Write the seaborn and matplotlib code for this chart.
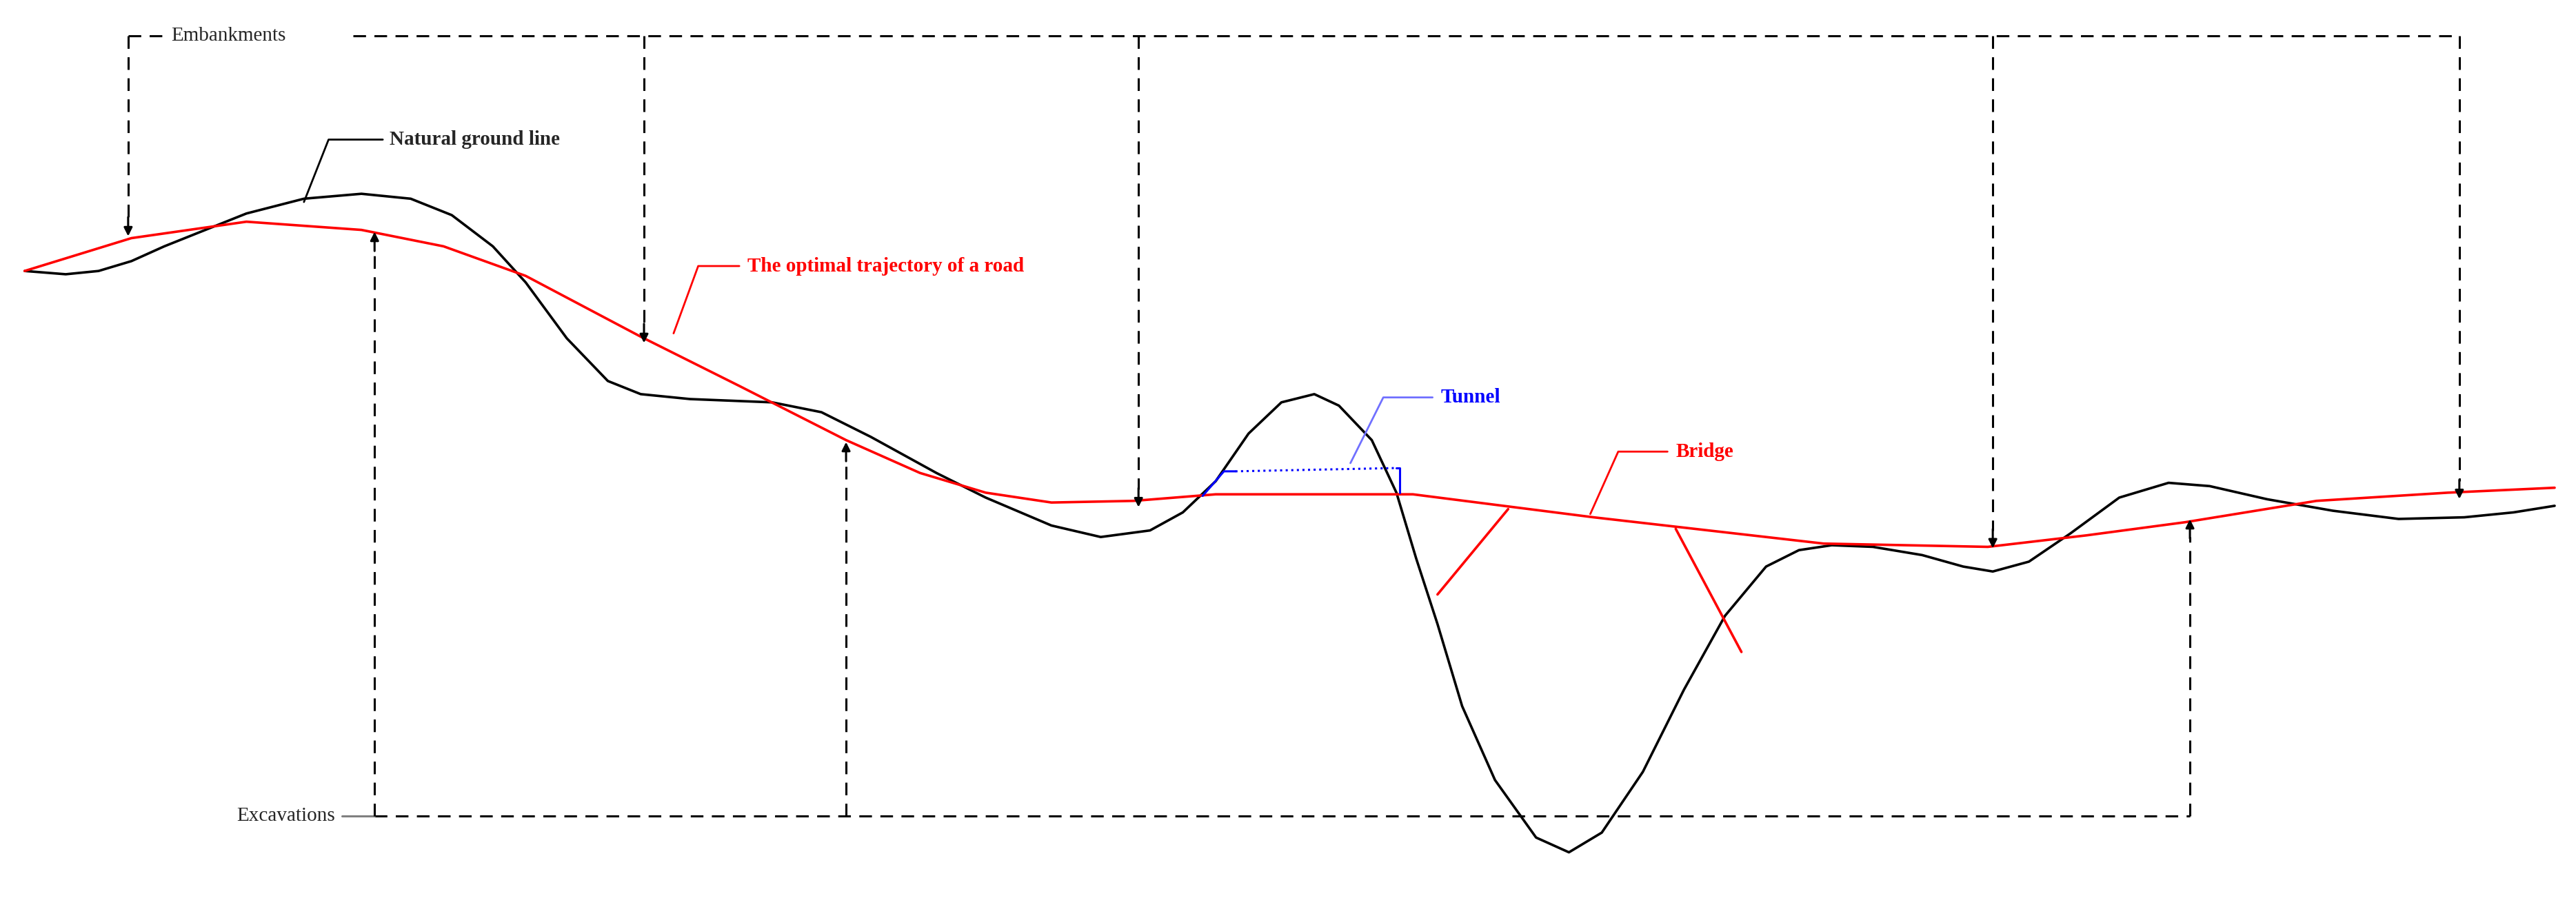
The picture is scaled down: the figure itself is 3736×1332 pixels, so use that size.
import numpy as np
import pandas as pd
import matplotlib.pyplot as plt
import seaborn as sns

# --- profile data (drawing units, y grows downwards) ---
ground_x = [15, 40, 60, 80, 100, 125, 150, 185, 220, 250, 275, 300, 320, 345, 370, 390, 420, 470, 500, 530,
            570, 600, 640, 670, 700, 720, 740, 760, 780, 800, 815, 835, 850, 862, 875, 890, 910, 935, 955, 975,
            1000, 1025, 1050, 1075, 1095, 1115, 1140, 1170, 1195, 1213, 1235, 1260, 1290, 1320, 1345, 1380,
            1420, 1460, 1500, 1530, 1555]
ground_y = [165, 167, 165, 159, 150, 140, 130, 121, 118, 121, 131, 150, 172, 206, 232, 240, 243, 245, 251, 266,
            288, 303, 320, 327, 323, 312, 293, 264, 245, 240, 247, 268, 300, 340, 380, 430, 475, 510, 519, 507,
            470, 420, 375, 345, 335, 332, 333, 338, 345, 348, 342, 325, 303, 294, 296, 304, 311, 316, 315, 312, 308]
road_x = [15, 80, 150, 220, 270, 320, 390, 450, 515, 560, 600, 640, 690, 740, 860, 970, 1110, 1210, 1270,
          1330, 1410, 1490, 1555]
road_y = [165, 145, 135, 140, 150, 168, 205, 235, 268, 288, 300, 306, 305, 301, 301, 315, 331, 333, 326,
          318, 305, 300, 297]

emb_x = [78, 392, 693, 1213, 1497]
emb_tip = [145, 210, 310, 335, 305]
exc_x = [228, 515, 1333]
exc_tip = [140, 268, 315]

sns.set_theme(style="white")
plt.rcParams['font.family'] = ['Liberation Serif', 'DejaVu Serif']

fig = plt.figure(figsize=(37.36, 13.32), dpi=100)
ax = fig.add_axes([0, 0, 1, 1])
ax.set_xlim(0, 1568)
ax.set_ylim(559, 0)
ax.axis('off')

lw = 2.6
sns.lineplot(x=ground_x, y=ground_y, sort=False, color='black', lw=lw, ax=ax)
sns.lineplot(x=road_x, y=road_y, sort=False, color='red', lw=lw, ax=ax)

dash = dict(color='black', lw=2.2, ls=(0, (6, 4)))
arr = dict(arrowstyle='-|>', color='black', lw=2.2, mutation_scale=18)

# embankments
ax.plot([78, 100], [22, 22], **dash)
ax.plot([215, 1497], [22, 22], **dash)
for x, tip in zip(emb_x, emb_tip):
    ax.plot([x, x], [22, tip - 12], **dash)
    ax.annotate('', xy=(x, tip), xytext=(x, tip - 14), arrowprops=arr)
ax.text(104, 22, 'Embankments', fontsize=21, va='center', ha='left')

# excavations
ax.plot([228, 1333], [497, 497], **dash)
ax.plot([208, 228], [497, 497], color='gray', lw=2.2)
for x, tip in zip(exc_x, exc_tip):
    ax.plot([x, x], [497, tip + 12], **dash)
    ax.annotate('', xy=(x, tip), xytext=(x, tip + 14), arrowprops=arr)
ax.text(204, 497, 'Excavations', fontsize=21, va='center', ha='right')

# labels with leaders
ax.plot([233, 200, 185], [85, 85, 123], color='black', lw=2)
ax.text(237, 85, 'Natural ground line', fontsize=21, va='center', fontweight='bold')
ax.plot([450, 425, 410], [162, 162, 203], color='red', lw=2)
ax.text(455, 162, 'The optimal trajectory of a road', fontsize=21, va='center', color='red', fontweight='bold')

# tunnel
ax.plot([752, 850], [287, 285], color='blue', lw=2.2, ls=':')
ax.plot([732, 745, 752], [302, 287, 287], color='blue', lw=2.2)
ax.plot([850, 852, 852], [285, 285, 300], color='blue', lw=2.2)
ax.plot([872, 842, 822], [242, 242, 282], color='#7070ff', lw=2)
ax.text(877, 242, 'Tunnel', fontsize=21, va='center', color='blue', fontweight='bold')

# bridge
ax.plot([1015, 985, 968], [275, 275, 313], color='red', lw=2)
ax.text(1020, 275, 'Bridge', fontsize=21, va='center', color='red', fontweight='bold')
ax.plot([918, 875], [310, 362], color='red', lw=lw)
ax.plot([1020, 1060], [322, 397], color='red', lw=lw)

fig.savefig('out.png', dpi=100, facecolor='white')
